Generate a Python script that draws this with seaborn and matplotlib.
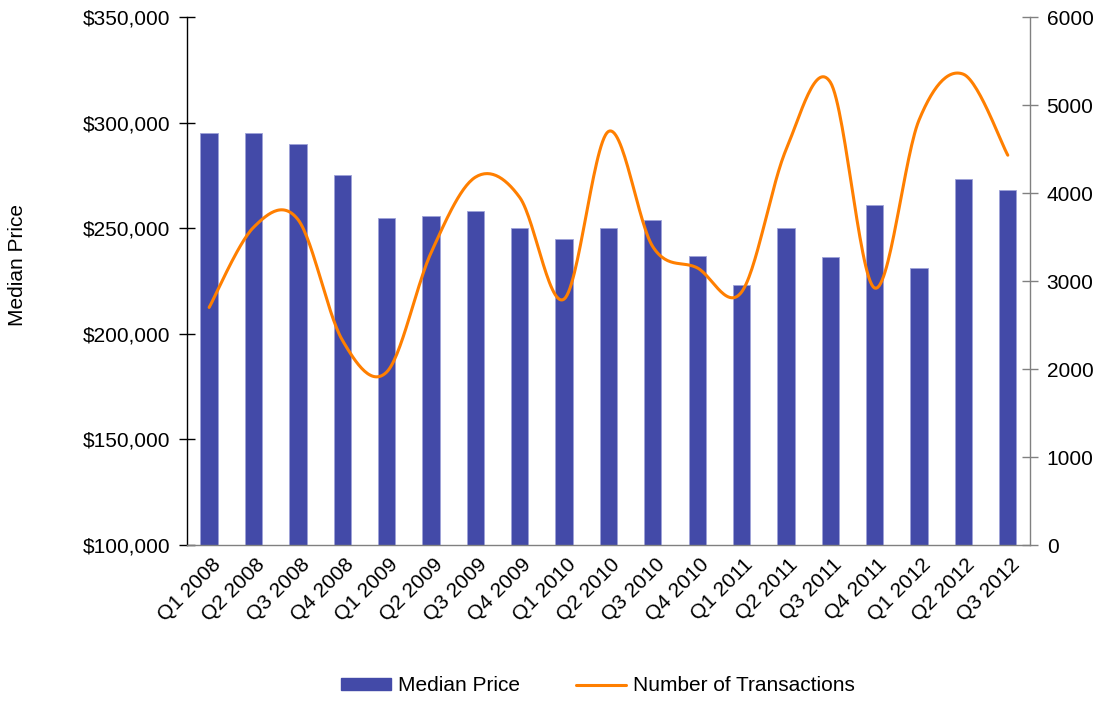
import numpy as np
import pandas as pd
import matplotlib
matplotlib.use("Agg")
import matplotlib.pyplot as plt
import matplotlib.transforms as mtransforms
import seaborn as sns
from matplotlib.patches import Patch
from matplotlib.lines import Line2D

quarters = ["Q1 2008", "Q2 2008", "Q3 2008", "Q4 2008",
            "Q1 2009", "Q2 2009", "Q3 2009", "Q4 2009",
            "Q1 2010", "Q2 2010", "Q3 2010", "Q4 2010",
            "Q1 2011", "Q2 2011", "Q3 2011", "Q4 2011",
            "Q1 2012", "Q2 2012", "Q3 2012"]
median_price = [295000, 295000, 290000, 275000,
                255000, 256000, 258000, 250000,
                245000, 250000, 254000, 237000,
                223000, 250000, 236500, 261000,
                231000, 273500, 268000]
transactions = [2700, 3610, 3700, 2330,
                1965, 3320, 4180, 3950,
                2795, 4700, 3390, 3150,
                2875, 4490, 5260, 2920,
                4830, 5350, 4430]

BAR_COLOR = "#434AA8"
LINE_COLOR = "#FF7F00"
FS = 15

sns.set_theme(style="white")
plt.rcParams["font.family"] = ["Liberation Sans", "DejaVu Sans"]
plt.rcParams["text.color"] = "black"
plt.rcParams["xtick.color"] = "black"
plt.rcParams["ytick.color"] = "black"

fig = plt.figure(figsize=(11.05, 7.01), dpi=100)
ax = fig.add_axes([0.1692, 0.2225, 0.9321 - 0.1692, 0.9757 - 0.2225])

df = pd.DataFrame({"Quarter": quarters, "Median Price": median_price})
sns.barplot(data=df, x="Quarter", y="Median Price", color=BAR_COLOR,
            saturation=1, width=0.39, edgecolor="#9EA2D8", linewidth=0.6, ax=ax)

ax.set_ylim(100000, 350000)
ax.set_xlim(-0.5, len(quarters) - 0.5)
yt = np.arange(100000, 350001, 50000)
ax.set_yticks(yt)
ax.set_yticklabels([f"${v:,.0f}" for v in yt], fontsize=FS)
ax.set_xticks(range(len(quarters)))
ax.set_xticklabels(quarters, rotation=45, ha="right", rotation_mode="anchor", fontsize=FS)
ax.tick_params(axis="x", length=0, pad=7, labelcolor="black")
ax.tick_params(axis="y", direction="inout", length=12, width=1, color="black",
               pad=6, labelcolor="black")
shift = mtransforms.ScaledTranslation(2 / 100, 0, fig.dpi_scale_trans)
for lbl in ax.get_xticklabels():
    lbl.set_transform(lbl.get_transform() + shift)
ax.set_xlabel("")
ax.set_ylabel("")
ax.spines["top"].set_visible(False)
ax.spines["left"].set_color("black")
ax.spines["left"].set_linewidth(1)
ax.spines["bottom"].set_color("#808080")
ax.spines["bottom"].set_linewidth(1)
ax.spines["right"].set_visible(False)

fig.text(18 / 1105, 1 - 265 / 701, "Median Price", rotation=90,
         ha="center", va="center", fontsize=FS, color="black")

# Smoothed line (Catmull-Rom rendering through the data points)
ax2 = ax.twinx()
pts_x = np.arange(len(transactions), dtype=float)
pts_y = np.array(transactions, dtype=float)
xs, ys = [], []
n = len(pts_x)
for i in range(n - 1):
    p0 = (pts_x[max(i - 1, 0)], pts_y[max(i - 1, 0)])
    p1 = (pts_x[i], pts_y[i])
    p2 = (pts_x[i + 1], pts_y[i + 1])
    p3 = (pts_x[min(i + 2, n - 1)], pts_y[min(i + 2, n - 1)])
    t = np.linspace(0, 1, 30, endpoint=(i == n - 2))
    for a, b, c, d, out in ((p0[0], p1[0], p2[0], p3[0], xs), (p0[1], p1[1], p2[1], p3[1], ys)):
        m1 = (c - a) / 2.0
        m2 = (d - b) / 2.0
        h00 = 2 * t**3 - 3 * t**2 + 1
        h10 = t**3 - 2 * t**2 + t
        h01 = -2 * t**3 + 3 * t**2
        h11 = t**3 - t**2
        out.extend(h00 * b + h10 * m1 + h01 * c + h11 * m2)
sns.lineplot(x=np.array(xs), y=np.array(ys), sort=False, color=LINE_COLOR,
             linewidth=2.2, ax=ax2, estimator=None)
ax2.set_ylim(0, 6000)
ax2.set_yticks(np.arange(0, 6001, 1000))
ax2.set_yticklabels([str(v) for v in range(0, 6001, 1000)], fontsize=FS)
ax2.tick_params(axis="y", direction="inout", length=12, width=1, color="#808080",
                pad=6, right=True, labelcolor="black")
ax2.set_ylabel("")
for s in ["top", "left", "bottom"]:
    ax2.spines[s].set_visible(False)
ax2.spines["right"].set_color("#808080")
ax2.spines["right"].set_linewidth(1)
ax2.set_xlim(-0.5, len(quarters) - 0.5)

handles = [Patch(facecolor=BAR_COLOR, edgecolor=BAR_COLOR, label="Median Price"),
           Line2D([0], [0], color=LINE_COLOR, linewidth=2.2, label="Number of Transactions")]
fig.legend(handles=handles, loc="center", bbox_to_anchor=(0.541, 0.0214), ncol=2,
           frameon=False, fontsize=FS, handlelength=2.4, handleheight=0.55,
           columnspacing=2.7, handletextpad=0.33, labelcolor="black")

fig.savefig("out.png", dpi=100)
